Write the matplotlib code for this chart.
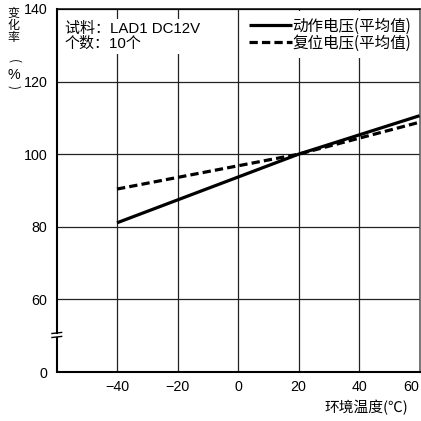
import matplotlib
matplotlib.use("Agg")
import matplotlib.pyplot as plt

plt.rcParams['font.family'] = ['Liberation Sans', 'Noto Sans CJK SC', 'DejaVu Sans']

# ---- data ----
temps = [-40, 20, 60]
operate_voltage = [81.1, 100.0, 110.6]   # 动作电压(平均值)
release_voltage = [90.4, 100.0, 108.8]   # 复位电压(平均值)
series_labels = ['动作电压(平均值)', '复位电压(平均值)']

x_ticks = [-40, -20, 0, 20, 40, 60]
x_tick_labels = ['−40', '−20', '0', '20', '40', '60']
y_tick_labels = ['0', '60', '80', '100', '120', '140']
y_tick_values = [0, 60, 80, 100, 120, 140]
y_break_base = 40   # value 0 is drawn at the position of 40 (broken axis)
x_label = '环境温度(℃)'
y_label_chars = ['变', '化', '率']
note_text = '试料：LAD1 DC12V\n个数：10个'

# ---- figure ----
W = H = 421
fig = plt.figure(figsize=(W / 100, H / 100), dpi=100)
ax = fig.add_axes([56.5 / W, 1 - 372 / H, (419.5 - 56.5) / W, (372 - 9) / H])

ax.set_xlim(-60, 60)
ax.set_ylim(y_break_base, 140)

ypos = [v if v > 0 else y_break_base for v in y_tick_values]
ax.set_xticks(x_ticks)
ax.set_xticklabels(x_tick_labels)
ax.set_yticks(ypos)
ax.set_yticklabels(y_tick_labels)
ax.tick_params(axis='both', length=0, labelsize=10.3, colors='black')
ax.tick_params(axis='x', pad=5.5)
ax.tick_params(axis='y', pad=6.5)
ax.get_xticklabels()[-1].set_horizontalalignment('right')

ax.grid(True, color='#222222', linewidth=0.9, zorder=0)
ax.set_axisbelow(True)

for side in ['top', 'right', 'bottom']:
    ax.spines[side].set_linewidth(1.1)
    ax.spines[side].set_color('black')
ax.spines['right'].set_color('#555555')
ax.spines['bottom'].set_linewidth(1.5)

# left spine with break
ax.spines['left'].set_linewidth(1.5)
ax.spines['left'].set_bounds(50.7, 140)
ax.plot([-60, -60], [y_break_base, 49.6], color='black', lw=1.5,
        clip_on=False, zorder=5, solid_capstyle='butt')
ax.plot([-61.5, -58.3], [49.5, 49.8], color='black', lw=1.0, clip_on=False, zorder=5)
ax.plot([-61.5, -58.3], [50.6, 50.9], color='black', lw=1.0, clip_on=False, zorder=5)

# series
ax.plot(temps, operate_voltage, color='black', lw=2.3, solid_capstyle='butt',
        zorder=3, label=series_labels[0])
ax.plot(temps, release_voltage, color='black', lw=2.3, linestyle=(0, (2.6, 1.3)),
        zorder=3, label=series_labels[1])

leg = ax.legend(loc='upper right', frameon=True, fontsize=11.2, handlelength=2.8,
                handletextpad=0.0, borderaxespad=0.15, borderpad=0.4,
                labelspacing=0.0, fancybox=False)
leg.get_frame().set_facecolor('white')
leg.get_frame().set_edgecolor('none')
leg.get_frame().set_alpha(1)
for t in leg.get_texts():
    t.set_fontfamily(['Noto Sans CJK SC'])

ax.text(-57.3, 136.3, note_text, fontsize=10.8, va='top', ha='left',
        linespacing=0.98, zorder=4,
        bbox=dict(facecolor='white', edgecolor='none', pad=2.5))

# x label
ax.text((408 - 56.5) / (419.5 - 56.5), -(408 - 372) / (372 - 9), x_label,
        transform=ax.transAxes, ha='right', va='center', fontsize=10.6,
        family=['Noto Sans CJK SC'])

# vertical y label
for ch, yy in zip(y_label_chars, [13.5, 26, 38]):
    fig.text(13.5 / W, 1 - yy / H, ch, ha='center', va='center', fontsize=8.6,
             family=['Noto Sans CJK SC'], fontweight='medium')
fig.text(13.5 / W, 1 - 61 / H, '(', rotation=-90, ha='center', va='center',
         fontsize=8.5, family=['Noto Sans CJK SC'])
fig.text(13.5 / W, 1 - 75 / H, '%', ha='center', va='center', fontsize=10.3)
fig.text(13.5 / W, 1 - 87 / H, ')', rotation=-90, ha='center', va='center',
         fontsize=8.5, family=['Noto Sans CJK SC'])

fig.savefig('out.png', dpi=100)
